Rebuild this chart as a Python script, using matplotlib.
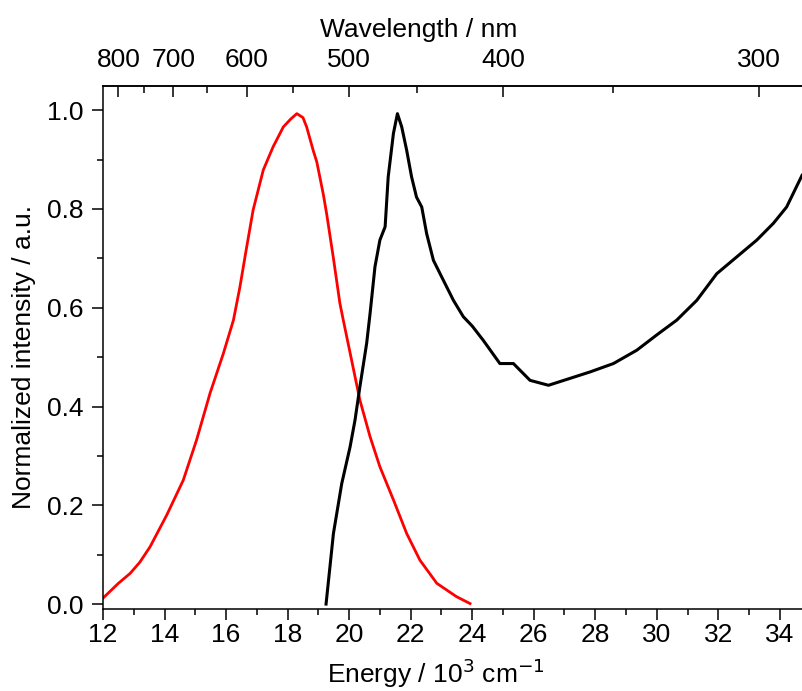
import matplotlib
matplotlib.use("Agg")
from matplotlib import pyplot as plt
from matplotlib.ticker import MultipleLocator, FixedLocator

plt.rcParams['font.family'] = ['Liberation Sans', 'DejaVu Sans']

# Emission (red)
em_energy = [12.0, 12.5, 12.88, 13.2, 13.53, 14.07, 14.61, 15.04, 15.48, 15.91,
             16.24, 16.45, 16.67, 16.88, 17.21, 17.53, 17.86, 18.1, 18.30,
             18.5, 18.62, 18.83, 18.95, 19.16, 19.27, 19.49, 19.70, 19.81,
             20.08, 20.35, 20.68, 21.0, 21.44, 21.87, 22.30, 22.85, 23.49,
             23.93]
em_int = [0.012, 0.042, 0.062, 0.085, 0.116, 0.180, 0.251, 0.332, 0.427,
          0.507, 0.575, 0.642, 0.723, 0.798, 0.879, 0.926, 0.966, 0.982,
          0.993, 0.985, 0.966, 0.919, 0.895, 0.830, 0.790, 0.700, 0.609,
          0.575, 0.494, 0.413, 0.339, 0.278, 0.211, 0.143, 0.089, 0.042,
          0.015, 0.001]

# Excitation / absorption (black)
ex_energy = [19.25, 19.49, 19.76, 20.03, 20.19, 20.35, 20.57, 20.68, 20.84,
             21.0, 21.17, 21.27, 21.44, 21.57, 21.71, 21.87, 22.03, 22.19,
             22.36, 22.52, 22.74, 23.06, 23.39, 23.71, 24.0, 24.36, 24.90,
             25.34, 25.88, 26.48, 27.18, 27.83, 28.59, 29.35, 30.0, 30.65,
             31.30, 31.95, 32.60, 33.25, 33.79, 34.22, 34.72]
ex_int = [0.0, 0.143, 0.244, 0.318, 0.372, 0.440, 0.528, 0.588, 0.683,
          0.737, 0.764, 0.865, 0.953, 0.993, 0.966, 0.919, 0.865, 0.824,
          0.804, 0.750, 0.696, 0.656, 0.615, 0.582, 0.563, 0.534, 0.487,
          0.487, 0.453, 0.443, 0.457, 0.470, 0.487, 0.514, 0.545, 0.575,
          0.615, 0.669, 0.703, 0.737, 0.771, 0.804, 0.868]

wl_major = [800, 700, 600, 500, 400, 300]
wl_minor = [750, 650, 550, 450, 350]

fs = 19
fig = plt.figure(figsize=(8.02, 6.91), dpi=100)
ax = fig.add_axes([103 / 802, 82 / 691, 699 / 802, 523 / 691])

ax.plot(em_energy, em_int, color='red', lw=2)
ax.plot(ex_energy, ex_int, color='black', lw=2.2)

ax.set_xlim(12, 34.72)
ax.set_ylim(-0.01, 1.049)
ax.xaxis.set_major_locator(MultipleLocator(2))
ax.xaxis.set_minor_locator(MultipleLocator(1))
ax.yaxis.set_major_locator(MultipleLocator(0.2))
ax.yaxis.set_minor_locator(MultipleLocator(0.1))
ax.yaxis.set_major_formatter(plt.FormatStrFormatter('%.1f'))
ax.tick_params(which='both', direction='out', width=1.1, labelsize=fs)
ax.tick_params(which='major', length=8)
ax.tick_params(which='minor', length=4.5)
ax.tick_params(axis='x', pad=2)
ax.tick_params(axis='y', pad=6)
ax.spines['right'].set_visible(False)
for s in ['left', 'bottom', 'top']:
    ax.spines[s].set_linewidth(1.1)

ax.set_xlabel('Energy / 10$^3$ cm$^{-1}$', fontsize=fs, labelpad=7, x=0.476)
ax.set_ylabel('Normalized intensity / a.u.', fontsize=fs, labelpad=8, y=0.481)

top = ax.secondary_xaxis('top', functions=(lambda e: 1e4 / e, lambda w: 1e4 / w))
top.xaxis.set_major_locator(FixedLocator(wl_major))
top.xaxis.set_minor_locator(FixedLocator(wl_minor))
top.tick_params(which='both', direction='in', width=1.1, labelsize=fs, pad=10)
top.tick_params(which='major', length=8)
top.tick_params(which='minor', length=5)
top.spines['top'].set_linewidth(1.1)
top.set_xlabel('Wavelength / nm', fontsize=fs, labelpad=8, x=0.451)

fig.savefig('out.png', dpi=100)
